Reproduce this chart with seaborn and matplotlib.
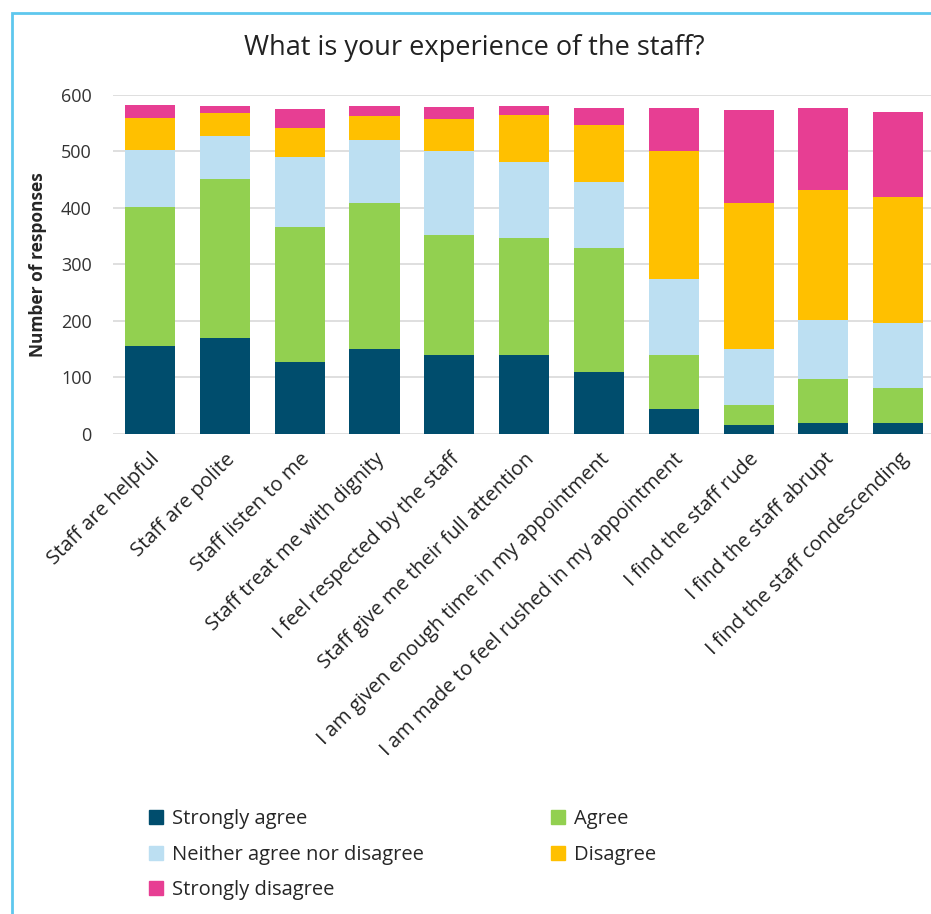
import numpy as np
import pandas as pd
import matplotlib
matplotlib.use("Agg")
import matplotlib.pyplot as plt
import matplotlib.patches as mpatches
import seaborn as sns

statements = [
    "Staff are helpful",
    "Staff are polite",
    "Staff listen to me",
    "Staff treat me with dignity",
    "I feel respected by the staff",
    "Staff give me their full attention",
    "I am given enough time in my appointment",
    "I am made to feel rushed in my appointment",
    "I find the staff rude",
    "I find the staff abrupt",
    "I find the staff condescending",
]
responses = ["Strongly agree", "Agree", "Neither agree nor disagree", "Disagree", "Strongly disagree"]

strongly_agree = [155, 170, 128, 150, 140, 140, 109, 45, 16, 20, 20]
agree = [246, 281, 239, 258, 212, 207, 221, 95, 35, 78, 61]
neither = [102, 77, 124, 112, 148, 134, 116, 135, 100, 104, 115]
disagree = [57, 40, 51, 42, 57, 84, 101, 225, 257, 230, 224]
strongly_disagree = [22, 12, 34, 18, 22, 15, 30, 77, 165, 145, 150]

colors = ["#004d6d", "#92d050", "#bcdff2", "#ffc000", "#e73e93"]

df = pd.DataFrame({
    "Statement": statements,
    "Strongly agree": strongly_agree,
    "Agree": agree,
    "Neither agree nor disagree": neither,
    "Disagree": disagree,
    "Strongly disagree": strongly_disagree,
})
# cumulative totals so the taller layers go behind
cum = df[responses].cumsum(axis=1)

sns.set_style("white")
plt.rcParams["font.family"] = ["Open Sans", "DejaVu Sans"]

fig = plt.figure(figsize=(9.31, 9.14), dpi=100)
ax = fig.add_axes([0.121, 0.5252, 0.884, 0.3709])

for resp, col in reversed(list(zip(responses, colors))):
    sns.barplot(x=df["Statement"], y=cum[resp], color=col, width=0.67,
                errorbar=None, ax=ax, saturation=1, linewidth=0, zorder=3)

ax.set_ylim(0, 600)
ax.set_yticks(range(0, 601, 100))
ax.yaxis.grid(True, color="#d9d9d9", linewidth=1.2, zorder=0)
ax.set_axisbelow(True)
for s in ax.spines.values():
    s.set_visible(False)
ax.tick_params(axis="y", length=0, pad=15, labelsize=13, labelcolor="#333333")
ax.tick_params(axis="x", length=0, pad=11, labelsize=14.5, labelcolor="#222222")
ax.set_xticks(range(len(statements)))
ax.set_xticklabels(statements, rotation=45, ha="right", rotation_mode="anchor")
ax.set_xlabel("")
ax.set_ylabel("Number of responses", fontsize=12.5, fontweight="bold", labelpad=10)

fig.text(0.509, 0.947, "What is your experience of the staff?", ha="center", va="center",
         fontsize=19.5, color="#222222")

handles = [mpatches.Patch(color=c, label=r) for r, c in zip(responses, colors)]
order = [0, 2, 4, 1, 3]
fig.legend([handles[i] for i in order], [responses[i] for i in order],
           loc="upper left", bbox_to_anchor=(0.160, 0.115),
           bbox_transform=fig.transFigure, ncol=2, frameon=False,
           fontsize=14.5, handlelength=0.7, handleheight=0.7, handletextpad=0.45,
           columnspacing=6.3, labelspacing=0.78, borderaxespad=0, borderpad=0)

border = mpatches.Rectangle((12 / 931, -0.05), 1.1, 0.05 + (914 - 13) / 914,
                            transform=fig.transFigure, fill=False,
                            edgecolor="#5ec7ee", linewidth=2)
fig.patches.append(border)

fig.savefig("out.png", dpi=100)
